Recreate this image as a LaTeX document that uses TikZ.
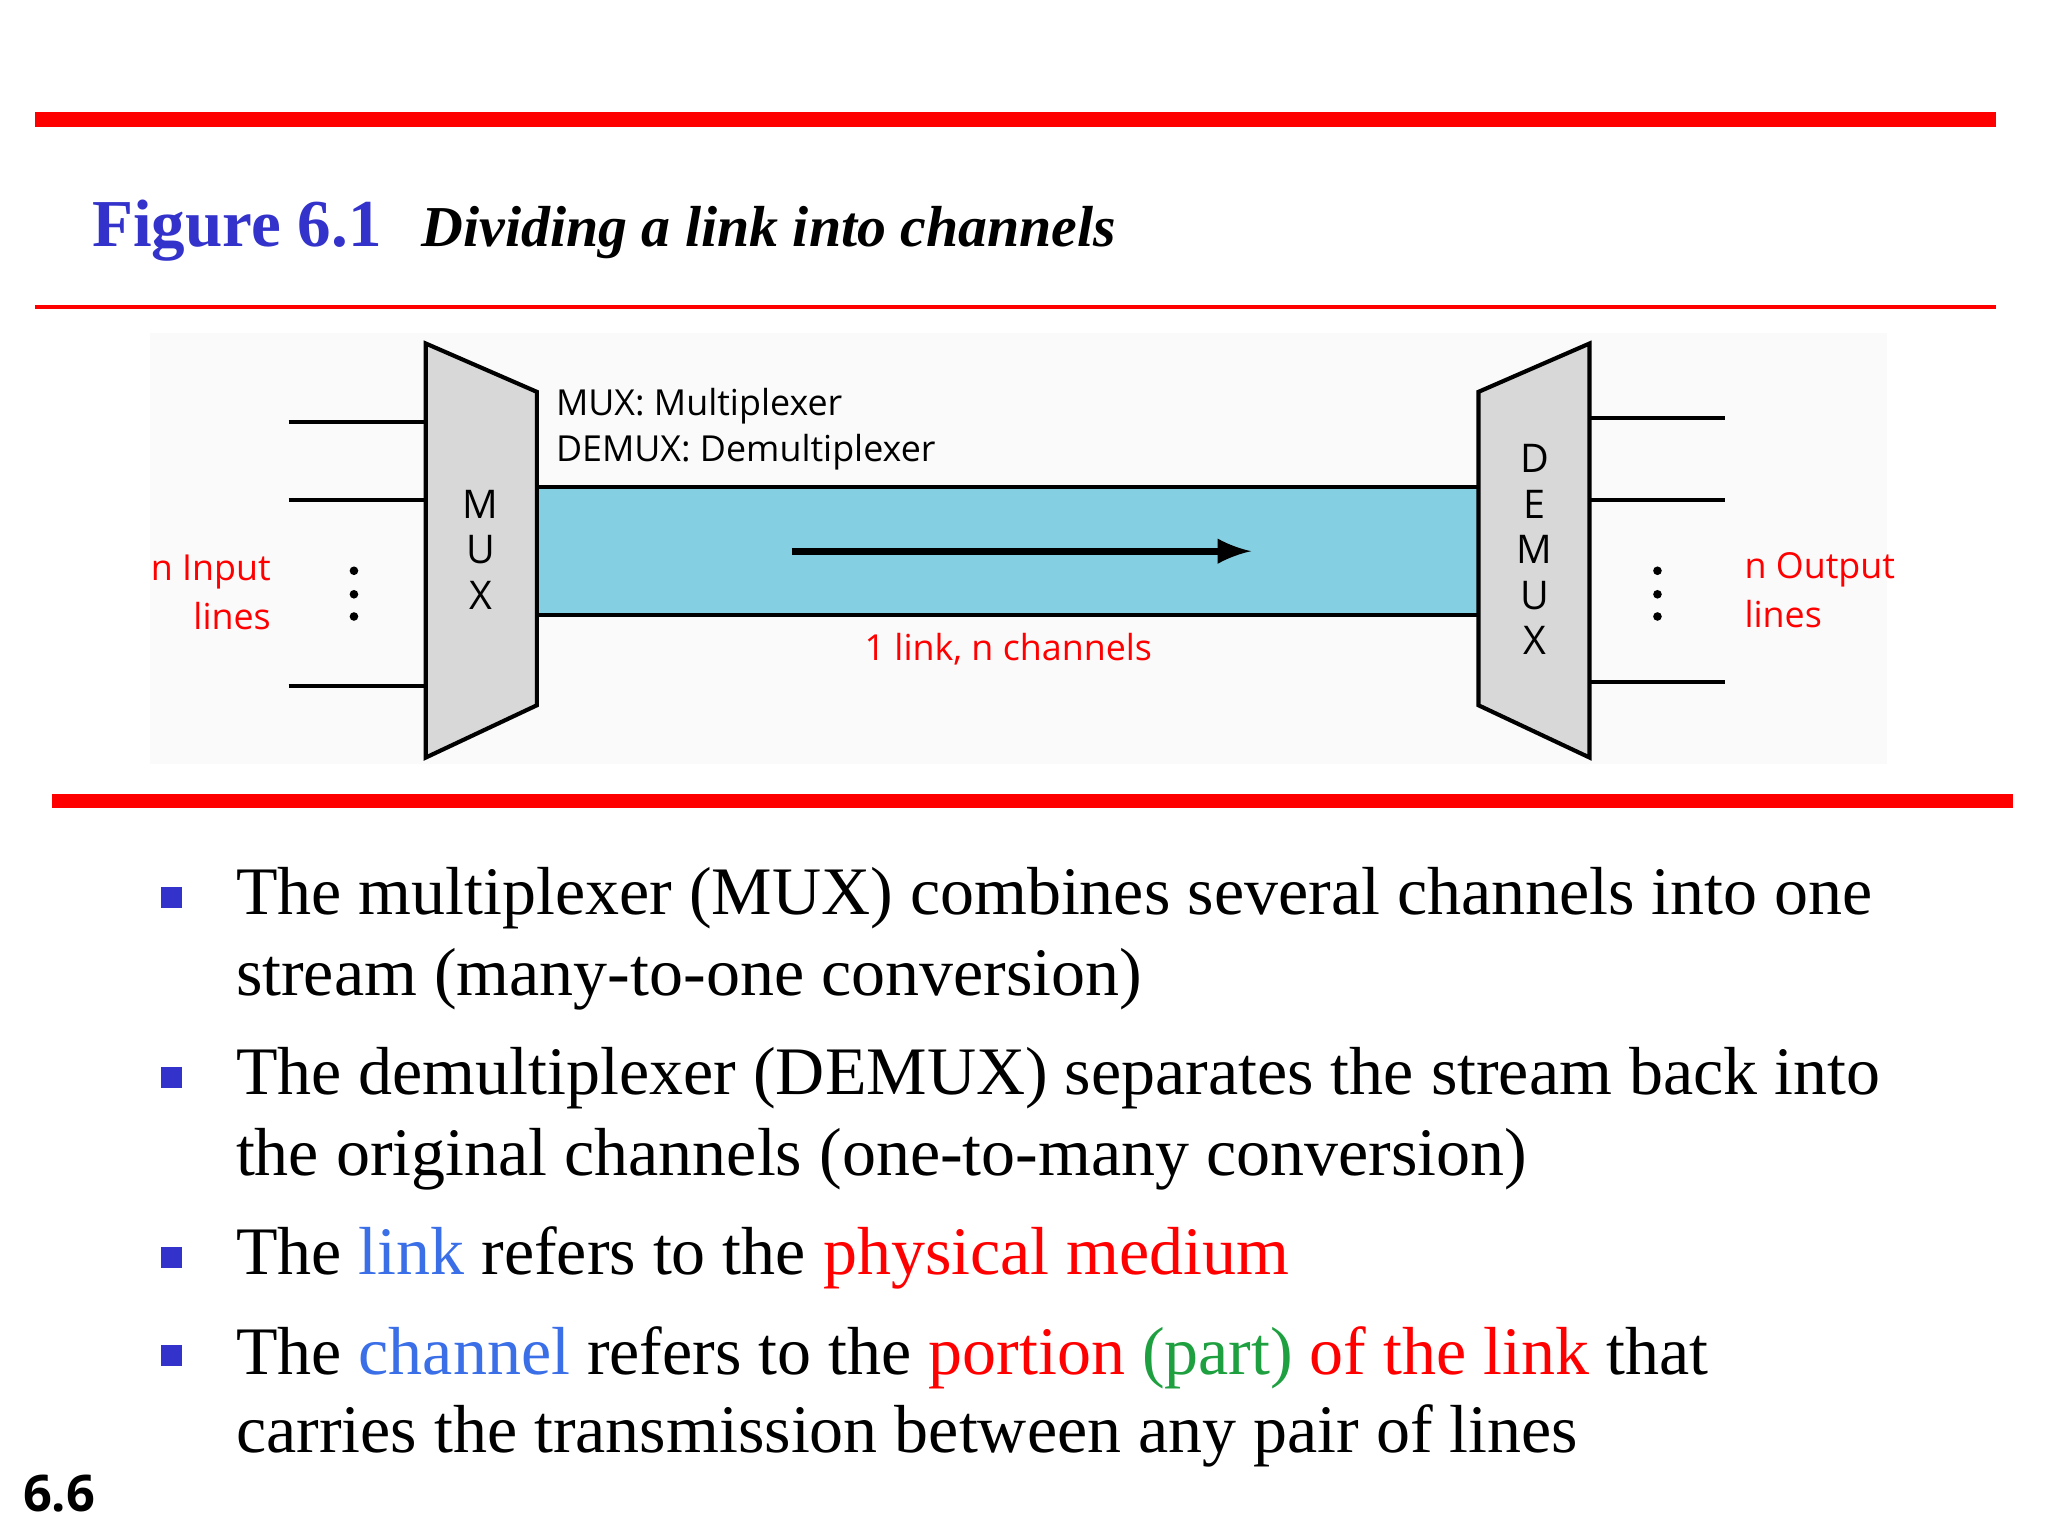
\documentclass[tikz,border=0pt]{standalone}
\usepackage{fontspec}
\setmainfont{Liberation Serif}
\setsansfont{Open Sans}
\definecolor{tblue}{HTML}{3333CC}
\definecolor{lblue}{HTML}{3A6FE8}
\definecolor{lgreen}{HTML}{1FA040}
\definecolor{linkc}{HTML}{85CFE2}
\definecolor{boxg}{HTML}{D8D8D8}
\begin{document}
\begin{tikzpicture}[x=0.01cm,y=-0.01cm,
  lab/.style={font=\sffamily\fontsize{7.8}{10}\selectfont,inner sep=0},
  rlab/.style={lab,text=red},
  body/.style={anchor=base west,inner sep=0,font=\fontsize{14.8}{16}\selectfont},
  bul/.style={fill=tblue,minimum size=0.16cm,inner sep=0},
  wire/.style={line width=0.8pt},
  dev/.style={fill=boxg,draw=black,line width=0.9pt}]
\useasboundingbox (0,0) rectangle (1568,1176);
\fill[white] (0,0) rectangle (1568,1176);
\fill[red] (27,86) rectangle (1528,97);
\node[anchor=base west,inner sep=0,text=tblue,font=\bfseries\fontsize{14.6}{18}\selectfont] (fig) at (70,189) {Figure 6.1};
\node[anchor=base west,inner sep=0,font=\bfseries\itshape\fontsize{12.6}{14}\selectfont] (cap) at (322,189) {Dividing a link into channels};
\fill[red] (27,233.5) rectangle (1528,236.5);
% diagram
\fill[black!2] (115,255) rectangle (1445,585);
\node[draw=black,line width=0.9pt,fill=linkc,minimum width=7.21cm,minimum height=0.98cm,inner sep=0] (link) at (771.5,422) {};
\draw[dev] (326,263) -- (411,300) -- (411,540) -- (326,580) -- cycle;
\draw[dev] (1132,300) -- (1217,263) -- (1217,580) -- (1132,540) -- cycle;
\coordinate (a1) at (606,422); \coordinate (a2) at (958,422);
\draw[line width=1.5pt,-latex] (a1) -- (a2);
\foreach \y [count=\i] in {323,383,525}{
  \coordinate (ia\i) at (221,\y); \coordinate (ib\i) at (326,\y);
  \draw[wire] (ia\i) -- (ib\i);}
\foreach \y [count=\i] in {320,383,522}{
  \coordinate (oa\i) at (1217,\y); \coordinate (ob\i) at (1321,\y);
  \draw[wire] (oa\i) -- (ob\i);}
\foreach \y in {437,455,472}{\fill (271,\y) circle (3.3); \fill (1269,\y) circle (3.3);}
\node[lab,font=\sffamily\fontsize{8.6}{10}\selectfont] (m1) at (368,386) {M};
\node[lab,font=\sffamily\fontsize{8.6}{10}\selectfont] (m2) at (368,421) {U};
\node[lab,font=\sffamily\fontsize{8.6}{10}\selectfont] (m3) at (368,456) {X};
\foreach \t/\y [count=\i] in {D/351,E/386,M/421,U/456,X/490}
  \node[lab,font=\sffamily\fontsize{8.6}{10}\selectfont] (d\i) at (1175,\y) {\t};
\node[lab,anchor=west] (t1) at (425,311) {MUX: Multiplexer};
\node[lab,anchor=west] (t2) at (425,346) {DEMUX: Demultiplexer};
\node[rlab] (t3) at (772,497) {1 link, n channels};
\node[rlab,anchor=east] (in1) at (208,438) {n Input};
\node[rlab,anchor=east] (in2) at (208,472) {lines};
\node[rlab,anchor=west] (on1) at (1335,436) {n Output};
\node[rlab,anchor=west] (on2) at (1335,470) {lines};
\fill[red] (40,608) rectangle (1541,619);
% bullets
\foreach \y [count=\i] in {687,825,963,1038} \node[bul] (b\i) at (131,\y) {};
\node[body] (l1) at (180,700) {The multiplexer (MUX) combines several channels into one};
\node[body] (l2) at (180,762) {stream (many-to-one conversion)};
\node[body] (l3) at (180,838) {The demultiplexer (DEMUX) separates the stream back into};
\node[body] (l4) at (180,900) {the original channels (one-to-many conversion)};
\node[body] (l5) at (180,976) {The \textcolor{lblue}{link} refers to the \textcolor{red}{physical medium}};
\node[body] (l6) at (180,1052) {The \textcolor{lblue}{channel} refers to the \textcolor{red}{portion} \textcolor{lgreen}{(part)} \textcolor{red}{of the link} that};
\node[body] (l7) at (180,1112) {carries the transmission between any pair of lines};
\node[anchor=base west,inner sep=0,font=\sffamily\bfseries\fontsize{11}{12}\selectfont] (pg) at (17,1157) {6.6};
\end{tikzpicture}
\end{document}
